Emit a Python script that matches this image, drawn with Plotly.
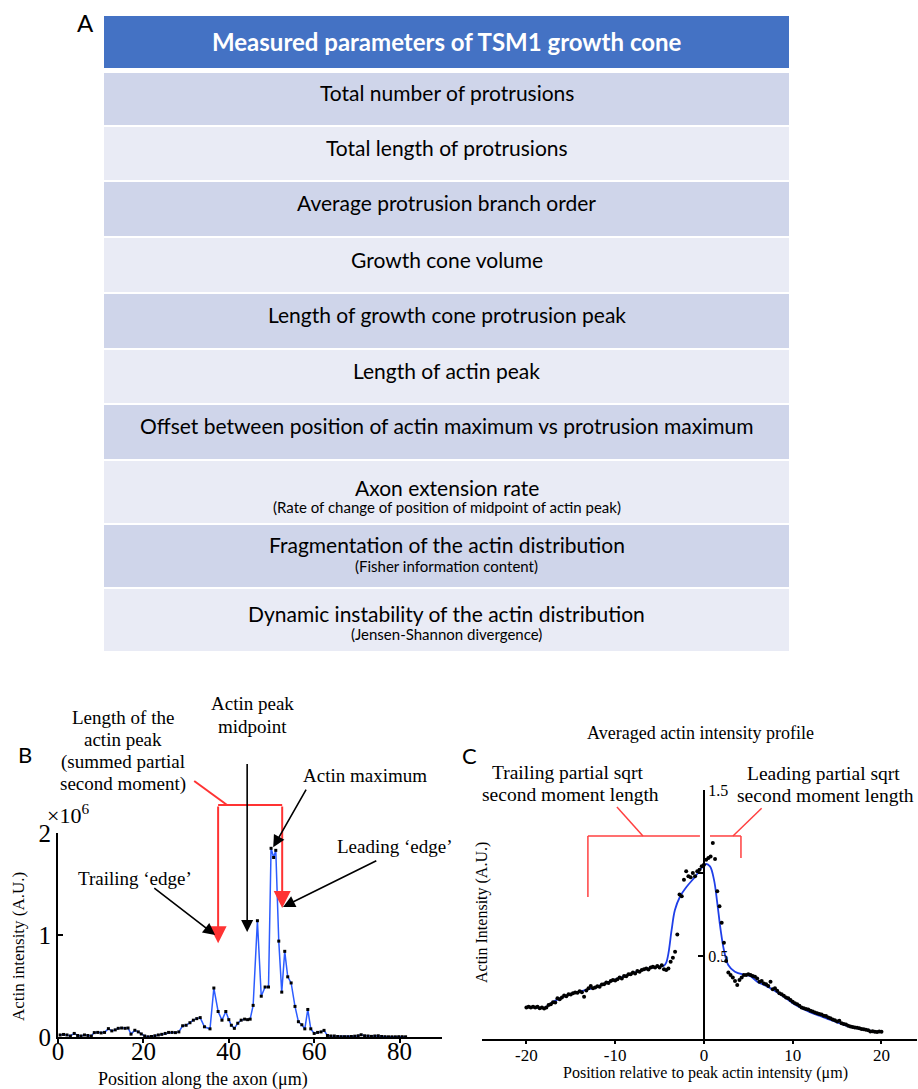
import plotly.graph_objects as go

W, H = 918, 1089
SERIF = "Liberation Serif, Times New Roman, serif"
SANS = "Lato, Open Sans, sans-serif"

# ---------------- Panel A: parameter table ----------------
table_title = "Measured parameters of TSM1 growth cone"
parameter_names = [
    "Total number of protrusions",
    "Total length of protrusions",
    "Average protrusion branch order",
    "Growth cone volume",
    "Length of growth cone protrusion peak",
    "Length of actin peak",
    "Offset between position of actin maximum vs protrusion maximum",
    "Axon extension rate",
    "Fragmentation of the actin distribution",
    "Dynamic instability of the actin distribution",
]
parameter_notes = [
    "", "", "", "", "", "", "",
    "(Rate of change of position of midpoint of actin peak)",
    "(Fisher information content)",
    "(Jensen-Shannon divergence)",
]

# ---------------- Panel B: single actin profile ----------------
b_position_um = [
    0.5, 1.3, 2.1, 2.9, 3.8, 4.6, 5.4, 6.2, 7.0, 7.8,
    8.5, 9.3, 10.1, 10.9, 11.8, 12.6, 13.4, 14.1, 14.9, 15.7,
    16.4, 17.1, 18.0, 18.8, 19.5, 20.3, 21.1, 21.9, 22.7, 23.5,
    24.3, 25.1, 25.9, 26.7, 27.5, 28.3, 29.2, 30.0, 30.9, 31.7,
    32.5, 33.3, 34.3, 35.6, 36.5, 37.5, 38.4, 39.3, 40.0, 40.6,
    41.3, 42.1, 42.9, 43.7, 44.4, 45.0, 45.7, 46.7, 47.6, 48.5,
    49.3, 49.9, 50.5, 51.0, 51.7, 52.4, 53.1, 53.8, 54.6, 55.5,
    56.3, 57.1, 57.8, 58.5, 59.2, 60.0, 60.8, 61.6, 62.3, 63.1,
    63.9, 64.7, 65.5, 66.3, 67.1, 67.9, 68.7, 69.5, 70.3, 71.0,
    71.8, 72.6, 73.4, 74.2, 75.0, 75.8, 76.6, 77.4, 78.2, 79.0,
    79.8, 80.6, 81.4,
]
b_intensity_1e6 = [
    0.020, 0.025, 0.020, 0.010, 0.035, 0.015, 0.010, 0.020, 0.015, 0.010,
    0.043, 0.045, 0.040, 0.045, 0.082, 0.060, 0.070, 0.085, 0.088, 0.085,
    0.088, 0.028, 0.066, 0.050, 0.030, 0.010, 0.002, 0.005, 0.012, 0.020,
    0.026, 0.035, 0.045, 0.045, 0.043, 0.050, 0.110, 0.115, 0.140, 0.165,
    0.180, 0.190, 0.100, 0.080, 0.480, 0.250, 0.165, 0.250, 0.170, 0.115,
    0.085, 0.135, 0.165, 0.175, 0.170, 0.175, 0.310, 1.140, 0.400, 0.490,
    0.490, 1.850, 1.760, 1.830, 0.940, 0.440, 0.840, 0.590, 0.530, 0.300,
    0.150, 0.120, 0.080, 0.270, 0.080, 0.035, 0.045, 0.050, 0.065, 0.015,
    0.010, 0.010, 0.005, 0.003, 0.003, 0.003, 0.005, 0.008, 0.012, 0.022,
    0.012, 0.010, 0.006, 0.010, 0.012, 0.005, 0.003, 0.002, 0.002, 0.002,
    0.003, 0.003, 0.002,
]
b_x_ticks = [0, 20, 40, 60, 80]
b_y_ticks = [0, 1, 2]

# Landmarks of the profile (um along the axon)
b_trailing_edge = 37.5
b_leading_edge = 52.5
b_peak_midpoint = 44.3
b_actin_max_x, b_actin_max_y = 50.4, 1.86

# ---------------- Panel C: averaged profile ----------------
c_position_um = [
    -20.0, -19.75, -19.5, -19.25, -19.0, -18.75, -18.5, -18.25,
    -18.0, -17.75, -17.5, -17.25, -17.0, -16.75, -16.5, -16.25,
    -16.0, -15.75, -15.5, -15.25, -15.0, -14.75, -14.5, -14.25,
    -14.0, -13.75, -13.5, -13.25, -13.0, -12.75, -12.5, -12.25,
    -12.0, -11.75, -11.5, -11.25, -11.0, -10.75, -10.5, -10.25,
    -10.0, -9.75, -9.5, -9.25, -9.0, -8.75, -8.5, -8.25,
    -8.0, -7.75, -7.5, -7.25, -7.0, -6.75, -6.5, -6.25,
    -6.0, -5.75, -5.5, -5.25, -5.0, -4.75, -4.5, -4.25,
    -4.0, -3.75, -3.5, -3.25, -3.0, -2.75, -2.5, -2.25,
    -2.0, -1.75, -1.5, -1.25, -1.0, -0.75, -0.5, -0.25,
    0.0, 0.25, 0.5, 0.75, 1.0, 1.25, 1.5, 1.75,
    2.0, 2.25, 2.5, 2.75, 3.0, 3.25, 3.5, 3.75,
    4.0, 4.25, 4.5, 4.75, 5.0, 5.25, 5.5, 5.75,
    6.0, 6.25, 6.5, 6.75, 7.0, 7.25, 7.5, 7.75,
    8.0, 8.25, 8.5, 8.75, 9.0, 9.25, 9.5, 9.75,
    10.0, 10.25, 10.5, 10.75, 11.0, 11.25, 11.5, 11.75,
    12.0, 12.25, 12.5, 12.75, 13.0, 13.25, 13.5, 13.75,
    14.0, 14.25, 14.5, 14.75, 15.0, 15.25, 15.5, 15.75,
    16.0, 16.25, 16.5, 16.75, 17.0, 17.25, 17.5, 17.75,
    18.0, 18.25, 18.5, 18.75, 19.0, 19.25, 19.5, 19.75,
    20.0,
]
c_intensity = [
    0.190, 0.195, 0.190, 0.195, 0.190, 0.195, 0.185, 0.190,
    0.183, 0.190, 0.205, 0.210, 0.222, 0.220, 0.245, 0.240,
    0.250, 0.262, 0.258, 0.270, 0.268, 0.275, 0.280, 0.278,
    0.288, 0.282, 0.255, 0.292, 0.305, 0.320, 0.305, 0.310,
    0.318, 0.315, 0.328, 0.330, 0.340, 0.338, 0.350, 0.355,
    0.352, 0.360, 0.370, 0.365, 0.380, 0.378, 0.390, 0.390,
    0.400, 0.395, 0.410, 0.405, 0.415, 0.420, 0.425, 0.418,
    0.430, 0.435, 0.430, 0.440, 0.430, 0.445, 0.420, 0.415,
    0.425, 0.465, 0.490, 0.525, 0.630, 0.870, 0.860, 0.960,
    1.010, 0.980, 0.975, 1.000, 0.980, 1.010, 1.020, 1.040,
    1.050, 1.080, 1.090, 1.100, 1.180, 1.085, 0.890, 0.800,
    0.700, 0.580, 0.470, 0.400, 0.385, 0.370, 0.350, 0.325,
    0.355, 0.370, 0.385, 0.385, 0.390, 0.385, 0.380, 0.375,
    0.365, 0.345, 0.350, 0.335, 0.330, 0.320, 0.345, 0.300,
    0.305, 0.290, 0.275, 0.270, 0.260, 0.250, 0.245, 0.235,
    0.225, 0.215, 0.210, 0.200, 0.190, 0.185, 0.180, 0.178,
    0.170, 0.165, 0.160, 0.155, 0.150, 0.148, 0.140, 0.138,
    0.130, 0.125, 0.118, 0.113, 0.105, 0.110, 0.095, 0.090,
    0.088, 0.080, 0.075, 0.072, 0.070, 0.068, 0.065, 0.060,
    0.058, 0.056, 0.052, 0.045, 0.047, 0.044, 0.042, 0.045,
    0.043,
]
# smooth fit through the averaged profile
c_fit_x = [-20, -19, -18, -17.5, -17, -16, -15, -14, -13, -12, -11, -10, -9, -8, -7,
           -6, -5, -4.5, -4.25, -4.0, -3.64, -3.27, -2.7, -1.95, -1.0, -0.26, 0.23,
           0.68, 1.13, 1.5, 1.88, 2.25, 2.74, 3.49, 4.6, 5.2, 6, 7, 8, 9, 10, 11,
           12, 13, 14, 15, 16, 17, 18, 19, 20]
c_fit_y = [0.195, 0.19, 0.188, 0.205, 0.225, 0.25, 0.272, 0.285, 0.30, 0.316, 0.338,
           0.358, 0.377, 0.397, 0.413, 0.427, 0.436, 0.442, 0.46, 0.516, 0.657, 0.777,
           0.857, 0.917, 0.977, 1.03, 1.054, 1.04, 0.96, 0.82, 0.657, 0.536, 0.446,
           0.405, 0.386, 0.38, 0.345, 0.32, 0.29, 0.255, 0.215, 0.185, 0.16, 0.14,
           0.12, 0.10, 0.08, 0.067, 0.057, 0.048, 0.043]
c_x_ticks = [-20, -10, 0, 10, 20]
c_x_ticktext = ["-20", "-10", "0", "10", "20"]
c_y_ticks = [0.5, 1.0, 1.5]
c_y_ticktext = ["0.5", "", "1.5"]

# partial sqrt second moment lengths (um from the peak)
c_trailing_len = -13.07
c_leading_len = 4.17


def px_x(p):
    return p / W


def px_y(p):
    return 1 - p / H


fig = go.Figure()


def text(x, y, s, size, family=SERIF, color="black", xanchor="center", **kw):
    fig.add_annotation(xref="paper", yref="paper", x=px_x(x), y=px_y(y), text=s,
                       showarrow=False, xanchor=xanchor, yanchor="middle",
                       font=dict(family=family, size=size, color=color), **kw)


# ---------- table (panel A) ----------
TABLE_X0, TABLE_X1 = 104, 789
HEADER_Y = (16, 68)
ROW_Y = [(73, 125), (127, 180), (182, 236), (238, 292), (294, 348),
         (350, 403), (405, 459), (461, 523), (525, 587), (589, 651)]
# vertical offsets (from the row top) of the name line and the note line
NOTE_ROW_OFFSETS = {7: (27, 46), 8: (19, 41), 9: (24, 45)}
HEADER_FILL = "#4472C4"
ROW_FILLS = ["#CFD5EA", "#E9EBF5"]
TABLE_CX = (TABLE_X0 + TABLE_X1) / 2

fig.add_shape(type="rect", xref="paper", yref="paper",
              x0=px_x(TABLE_X0), x1=px_x(TABLE_X1),
              y0=px_y(HEADER_Y[1]), y1=px_y(HEADER_Y[0]),
              fillcolor=HEADER_FILL, line_width=0, layer="below")
text(TABLE_CX, sum(HEADER_Y) / 2, "<b>%s</b>" % table_title, 24, family=SANS, color="white")

for i, (name, note) in enumerate(zip(parameter_names, parameter_notes)):
    top, bottom = ROW_Y[i]
    fig.add_shape(type="rect", xref="paper", yref="paper",
                  x0=px_x(TABLE_X0), x1=px_x(TABLE_X1),
                  y0=px_y(bottom), y1=px_y(top),
                  fillcolor=ROW_FILLS[i % 2], line_width=0, layer="below")
    if note:
        d1, d2 = NOTE_ROW_OFFSETS.get(i, (24, 45))
        text(TABLE_CX, top + d1, name, 21, family=SANS)
        text(TABLE_CX, top + d2, note, 15, family=SANS)
    else:
        text(TABLE_CX, (top + bottom) / 2 - 6, name, 21, family=SANS)

# ---------- panel B ----------
BLUE = "#2c5cff"
RED = "#ff3333"
fig.add_trace(go.Scatter(
    x=b_position_um, y=b_intensity_1e6, mode="lines+markers",
    line=dict(color=BLUE, width=1.5),
    marker=dict(color="black", size=3, symbol="square"),
    cliponaxis=False, xaxis="x", yaxis="y", hoverinfo="skip"))

# ---------- panel C ----------
fig.add_trace(go.Scatter(
    x=c_fit_x, y=c_fit_y, mode="lines", line=dict(color="#1f3fe8", width=1.8, shape="spline"),
    xaxis="x2", yaxis="y2", hoverinfo="skip"))
fig.add_trace(go.Scatter(
    x=c_position_um, y=c_intensity, mode="markers",
    marker=dict(color="black", size=4),
    xaxis="x2", yaxis="y2", cliponaxis=False, hoverinfo="skip"))

# axis geometry
b_xdom = [px_x(58), px_x(58 + 90 * 4.27)]
b_ydom = [px_y(1037), px_y(833)]
c_xdom = [px_x(482), px_x(917)]
c_ydom = [px_y(1039), px_y(790)]
c_xrange = [-25, 24]
# the vertical axis of panel C crosses at x = 0
c_zero_pos = c_xdom[0] + (0 - c_xrange[0]) / (c_xrange[1] - c_xrange[0]) * (c_xdom[1] - c_xdom[0])

axis_common = dict(showline=True, linecolor="black", linewidth=2, showgrid=False,
                   zeroline=False, tickcolor="black", tickwidth=1.5, automargin=False)

fig.update_layout(
    width=W, height=H, margin=dict(l=0, r=0, t=0, b=0, pad=0, autoexpand=False),
    paper_bgcolor="white", plot_bgcolor="rgba(0,0,0,0)", showlegend=False,
    xaxis=dict(domain=b_xdom, range=[0, 90], anchor="y", ticks="outside", ticklen=4,
               tickvals=b_x_ticks, ticklabelstandoff=-13,
               tickfont=dict(family=SERIF, size=25, color="black"), **axis_common),
    yaxis=dict(domain=b_ydom, range=[0, 2], anchor="x", ticks="inside", ticklen=5,
               tickvals=b_y_ticks, tickfont=dict(family=SERIF, size=25, color="black"),
               **axis_common),
    xaxis2=dict(domain=c_xdom, range=c_xrange, anchor="y2", ticks="outside", ticklen=3,
                tickvals=c_x_ticks, ticktext=c_x_ticktext, ticklabelstandoff=-3,
                tickfont=dict(family=SERIF, size=17, color="black"), **axis_common),
    yaxis2=dict(domain=c_ydom, range=[0, 1.5], anchor="free", position=c_zero_pos,
                side="right", ticks="inside", ticklen=5, tickvals=c_y_ticks,
                ticktext=c_y_ticktext, tickfont=dict(family=SERIF, size=16, color="black"),
                **axis_common),
)


def arrow(xh, yh, xt, yt, xref, yref, color, width, size):
    fig.add_annotation(x=xh, y=yh, ax=xt, ay=yt, xref=xref, yref=yref,
                       axref=xref, ayref=yref, text="", showarrow=True,
                       arrowhead=2, arrowsize=size, arrowwidth=width,
                       arrowcolor=color, standoff=0, startstandoff=0)


# panel letters
text(85, 22, "A", 24, family=SANS)
text(25, 754, "B", 22, family=SANS)
text(469, 755, "C", 22, family=SANS)

# panel B labels
for line, y in zip(["Length of the", "actin peak", "(summed partial", "second moment)"],
                   [717, 739, 762, 784]):
    text(123, y, line, 19)
text(253, 703, "Actin peak", 19)
text(252, 726, "midpoint", 19)
text(365, 775, "Actin maximum", 19)
text(395, 846, "Leading \u2018edge\u2019", 19)
text(135, 878, "Trailing \u2018edge\u2019", 19)
text(45, 814, "\u00d710<sup>6</sup>", 22, xanchor="left")
text(203, 1079, "Position along the axon (\u03bcm)", 18)
text(18, 947, "Actin intensity (A.U.)", 17, textangle=-90)

# bracket marking the length of the actin peak (above the plotted range)
b_top = 2.275 / 2  # in y-domain units
fig.add_shape(type="line", xref="x", yref="y domain", x0=b_trailing_edge, x1=b_leading_edge,
              y0=b_top, y1=b_top, line=dict(color=RED, width=2))
fig.add_shape(type="line", xref="x", yref="y domain", x0=31.9, x1=39.6,
              y0=1.255, y1=b_top, line=dict(color=RED, width=2))
arrow(b_trailing_edge, 0.92, b_trailing_edge, 2.275, "x", "y", RED, 2, 1.7)
arrow(b_leading_edge, 1.265, b_leading_edge, 2.275, "x", "y", RED, 2, 1.7)

# black pointers
arrow(b_peak_midpoint, 1.03, b_peak_midpoint, 2.69, "x", "y", "black", 1.6, 1.5)
arrow(b_actin_max_x, b_actin_max_y, 58.3, 2.44, "x", "y", "black", 1.6, 1.5)
arrow(52.7, 1.275, 74.9, 1.735, "x", "y", "black", 1.6, 1.5)
arrow(36.8, 1.0, 22.2, 1.47, "x", "y", "black", 1.6, 1.5)

# panel C labels
text(700, 733, "Averaged actin intensity profile", 18)
text(568, 772, "Trailing partial sqrt", 19.5)
text(570, 794, "second moment length", 19.5)
text(823, 773, "Leading partial sqrt", 19.5)
text(825, 795, "second moment length", 19.5)
text(705, 1073, "Position relative to peak actin intensity (\u03bcm)", 16)
text(482, 912, "Actin Intensity (A.U.)", 16, textangle=-90)

# brackets for the partial second moment lengths
C_RED = "#ff4040"
c_top = 1.223
for x0, y0, x1, y1 in [
    (c_trailing_len, 0.855, c_trailing_len, c_top),
    (c_trailing_len, c_top, -0.45, c_top),
    (-9.8, 1.398, -6.87, c_top),
    (0.68, c_top, c_leading_len, c_top),
    (c_leading_len, c_top, c_leading_len, 1.09),
    (6.5, 1.39, 3.27, c_top),
]:
    fig.add_shape(type="line", xref="x2", yref="y2", x0=x0, y0=y0, x1=x1, y1=y1,
                  line=dict(color=C_RED, width=1.5))

fig.write_html("out.html")
